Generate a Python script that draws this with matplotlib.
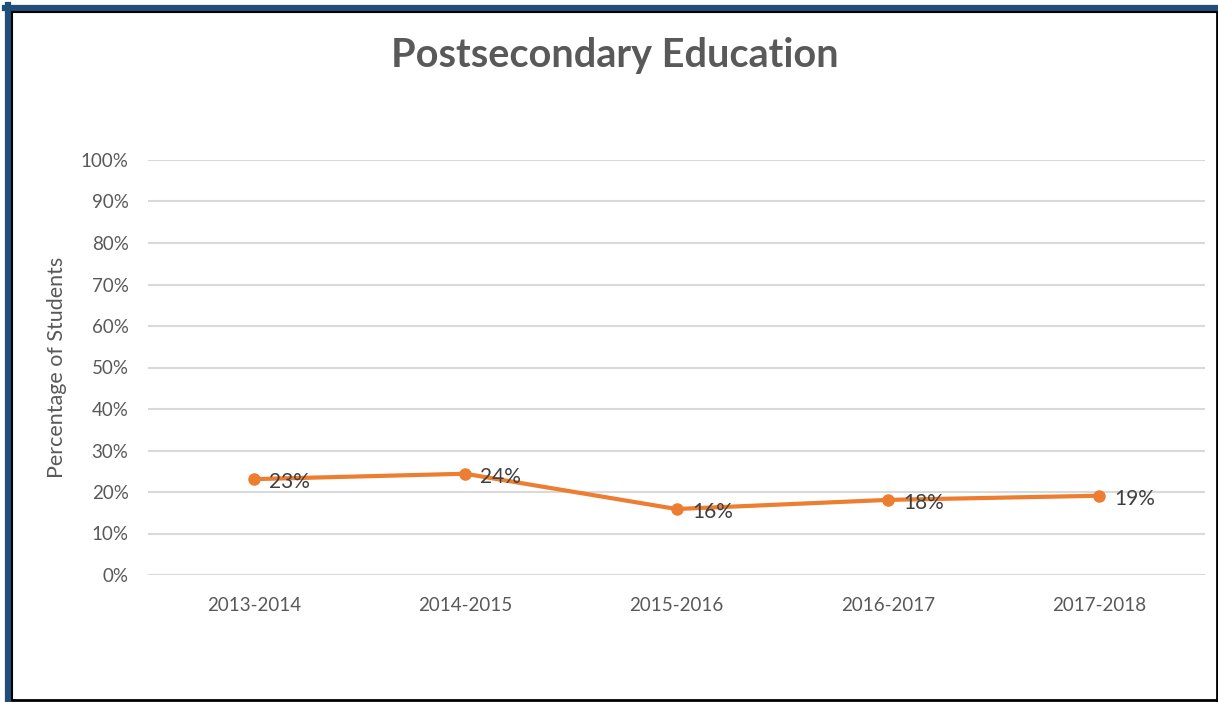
import matplotlib
matplotlib.use("Agg")
import matplotlib.pyplot as plt
from matplotlib.lines import Line2D
from matplotlib.ticker import FixedLocator

categories = ["2013-2014", "2014-2015", "2015-2016", "2016-2017", "2017-2018"]
values = [23.1, 24.4, 15.9, 18.1, 19.1]
labels = ["23%", "24%", "16%", "18%", "19%"]
yticks = [0, 10, 20, 30, 40, 50, 60, 70, 80, 90, 100]

plt.rcParams['font.family'] = ['Lato', 'DejaVu Sans']

W, H = 1218, 702
fig = plt.figure(figsize=(W / 100, H / 100), dpi=100)
fig.patch.set_facecolor("white")

def fx(x):
    return x / W

def fy(y):
    return 1 - y / H

# borders
fig.add_artist(Line2D([fx(5), fx(1218)], [fy(8), fy(8)], color="#1F4E79", lw=4.5, transform=fig.transFigure))
fig.add_artist(Line2D([fx(8), fx(8)], [fy(5), fy(702)], color="#1F4E79", lw=4.5, transform=fig.transFigure))
fig.add_artist(Line2D([fx(12), fx(1216.5)], [fy(12), fy(12)], color="black", lw=1.5, transform=fig.transFigure))
fig.add_artist(Line2D([fx(12), fx(12)], [fy(12), fy(700)], color="black", lw=1.5, transform=fig.transFigure))
fig.add_artist(Line2D([fx(1216.5), fx(1216.5)], [fy(12), fy(700)], color="black", lw=2, transform=fig.transFigure))
fig.add_artist(Line2D([fx(12), fx(1216.5)], [fy(700), fy(700)], color="black", lw=2, transform=fig.transFigure))

ax = fig.add_axes([fx(148), fy(575), fx(1205) - fx(148), fy(160) - fy(575)])
x = list(range(len(categories)))
ax.plot(x, values, color="#ED7D31", lw=3, marker="o", ms=8, zorder=3)
for xi, v, lab in zip(x, values, labels):
    ax.annotate(lab, (xi, v), xytext=(11, -2), textcoords="offset points",
                ha="left", va="center", fontsize=15, color="#404040", zorder=4)

ax.set_xlim(-0.5, len(categories) - 0.5)
ax.set_ylim(0, 100)
ax.yaxis.set_major_locator(FixedLocator(yticks))
ax.set_yticklabels([f"{t}%" for t in yticks])
ax.set_xticks(x)
ax.set_xticklabels(categories)
ax.tick_params(axis="both", length=0, labelsize=13.5, labelcolor="#595959")
ax.tick_params(axis="y", pad=14)
ax.tick_params(axis="x", pad=16)
for s in ax.spines.values():
    s.set_visible(False)
ax.grid(axis="y", color="#D9D9D9", lw=1.5)
ax.set_axisbelow(True)
ax.set_ylabel("Percentage of Students", fontsize=15.5, color="#595959", labelpad=10)

fig.text(fx(615), fy(56), "Postsecondary Education", ha="center", va="center",
         fontsize=28.5, fontweight="bold", color="#595959")

fig.savefig("out.png", dpi=100)
